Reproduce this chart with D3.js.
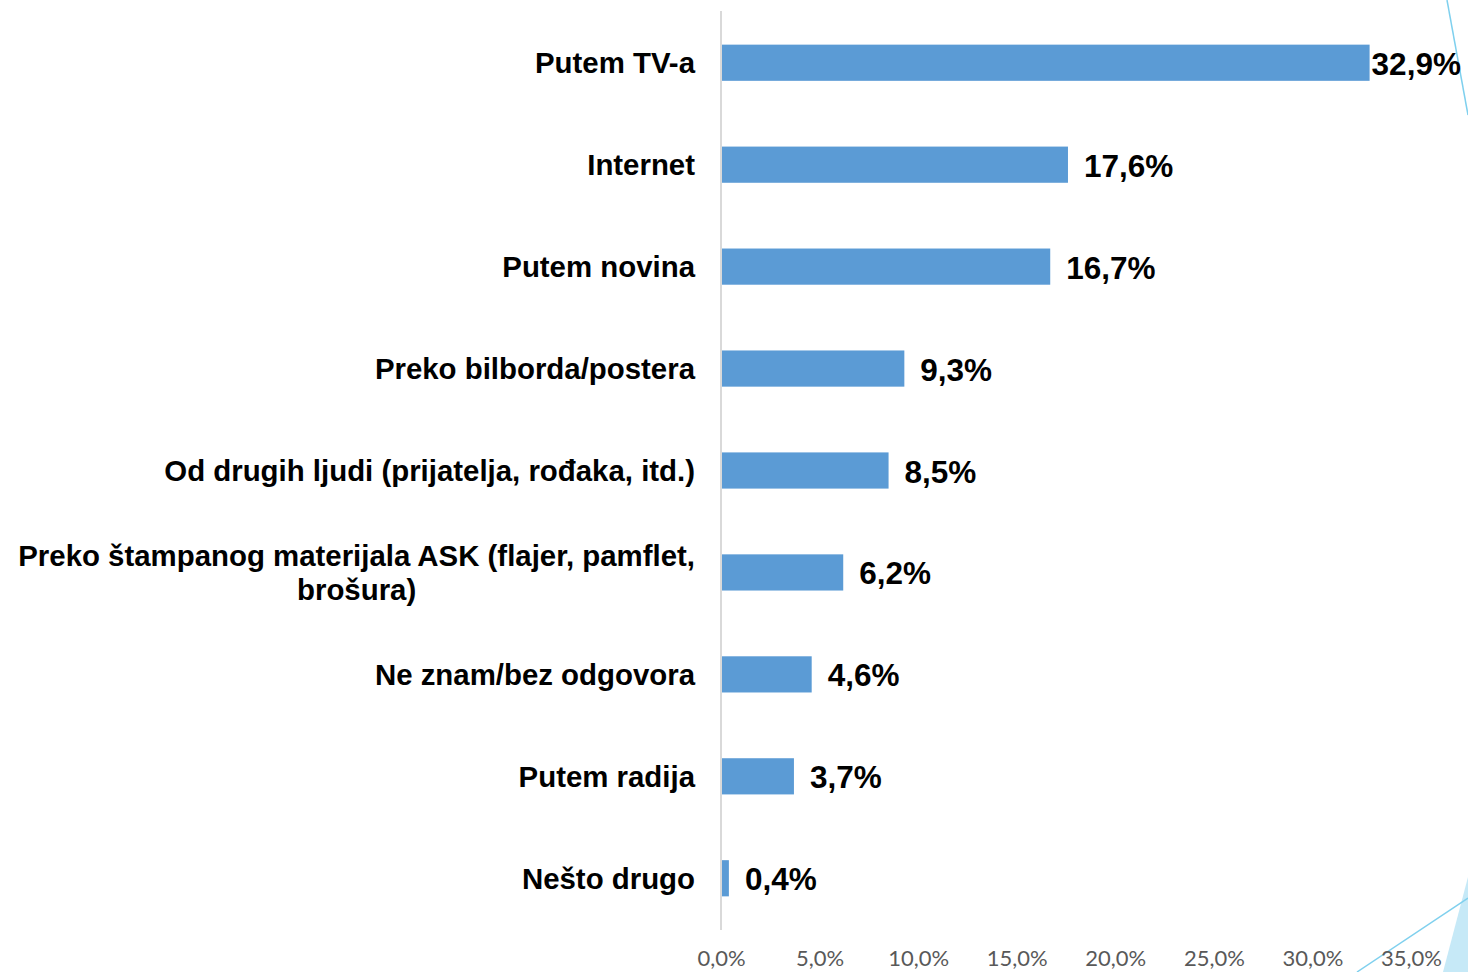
<!DOCTYPE html>
<html><head><meta charset="utf-8">
<script src="https://cdn.jsdelivr.net/npm/d3@7"></script>
<style>html,body{margin:0;padding:0;background:#fff;}svg{display:block;}</style>
</head><body>
<script>
const categories = ["Putem TV-a","Internet","Putem novina","Preko bilborda/postera","Od drugih ljudi (prijatelja, rođaka, itd.)","Preko štampanog materijala ASK (flajer, pamflet,|brošura)","Ne znam/bez odgovora","Putem radija","Nešto drugo"];
const values = [32.9,17.6,16.7,9.3,8.5,6.2,4.6,3.7,0.4];
const valueLabels = ["32,9%","17,6%","16,7%","9,3%","8,5%","6,2%","4,6%","3,7%","0,4%"];
const tickValues = [0,5,10,15,20,25,30,35];
const tickLabels = ["0,0%","5,0%","10,0%","15,0%","20,0%","25,0%","30,0%","35,0%"];

const W=1468,H=972;
const svg=d3.select("body").append("svg").attr("width",W).attr("height",H);
const x=d3.scaleLinear().domain([0,35]).range([721,1411]);
const y=d3.scaleBand().domain(categories).range([11,930]).paddingInner(0.645).paddingOuter(0.33);

// decorations
svg.append("path").attr("d",`M1443,972 L1468,877 L1468,972 Z`).attr("fill","#c6e9f7");
svg.append("line").attr("x1",1357).attr("y1",972).attr("x2",1468).attr("y2",898).attr("stroke","#7fd0ee").attr("stroke-width",1.5);
svg.append("line").attr("x1",1447).attr("y1",0).attr("x2",1468).attr("y2",115).attr("stroke","#7fd0ee").attr("stroke-width",1.5);

// bars
svg.selectAll("rect.bar").data(values).enter().append("rect").attr("class","bar")
 .attr("x",x(0)+1).attr("y",(d,i)=>y(categories[i]))
 .attr("width",d=>x(d)-x(0)-1).attr("height",y.bandwidth()).attr("fill","#5b9bd5");

// axis line
svg.append("line").attr("x1",x(0)).attr("x2",x(0)).attr("y1",11).attr("y2",930).attr("stroke","#d9d9d9").attr("stroke-width",2);

// x axis
const xAxis=d3.axisBottom(x).tickValues(tickValues).tickFormat((d,i)=>tickLabels[i]).tickSize(0).tickPadding(0);
const gx=svg.append("g").call(xAxis);
gx.select(".domain").remove();
gx.selectAll("text").attr("font-family","Lato, 'Open Sans', sans-serif").attr("font-size",22).attr("fill","#595959").attr("y",966).attr("dy",null);

// category labels
const fontCat="'Liberation Sans', Arial, sans-serif";
svg.selectAll("text.cat").data(categories).enter().append("text").attr("class","cat")
 .attr("font-family",fontCat).attr("font-weight","bold").attr("font-size",29.4).attr("fill","#000")
 .each(function(d){
   const t=d3.select(this); const lines=d.split("|"); const cy=y(d)+y.bandwidth()/2;
   if(lines.length===1){
     t.attr("x",695).attr("y",cy).attr("dy","0.35em").attr("text-anchor","end").text(d);
   } else {
     t.attr("text-anchor","middle");
     const t1=t.append("tspan").text(lines[0]);
     const w=t1.node().getComputedTextLength();
     const cx=695-w/2;
     t1.attr("x",cx).attr("y",cy-17).attr("dy","0.35em");
     t.append("tspan").attr("x",cx).attr("y",cy+17).attr("dy","0.35em").text(lines[1]);
   }
 });

// value labels
svg.selectAll("text.val").data(values).enter().append("text").attr("class","val")
 .attr("x",d=>x(d)+(d>30?2:16)).attr("y",(d,i)=>y(categories[i])+y.bandwidth()/2+1).attr("dy","0.35em")
 .attr("font-family",fontCat).attr("font-weight","bold").attr("font-size",31.5).attr("fill","#000")
 .text((d,i)=>valueLabels[i]);
</script>
</body></html>
